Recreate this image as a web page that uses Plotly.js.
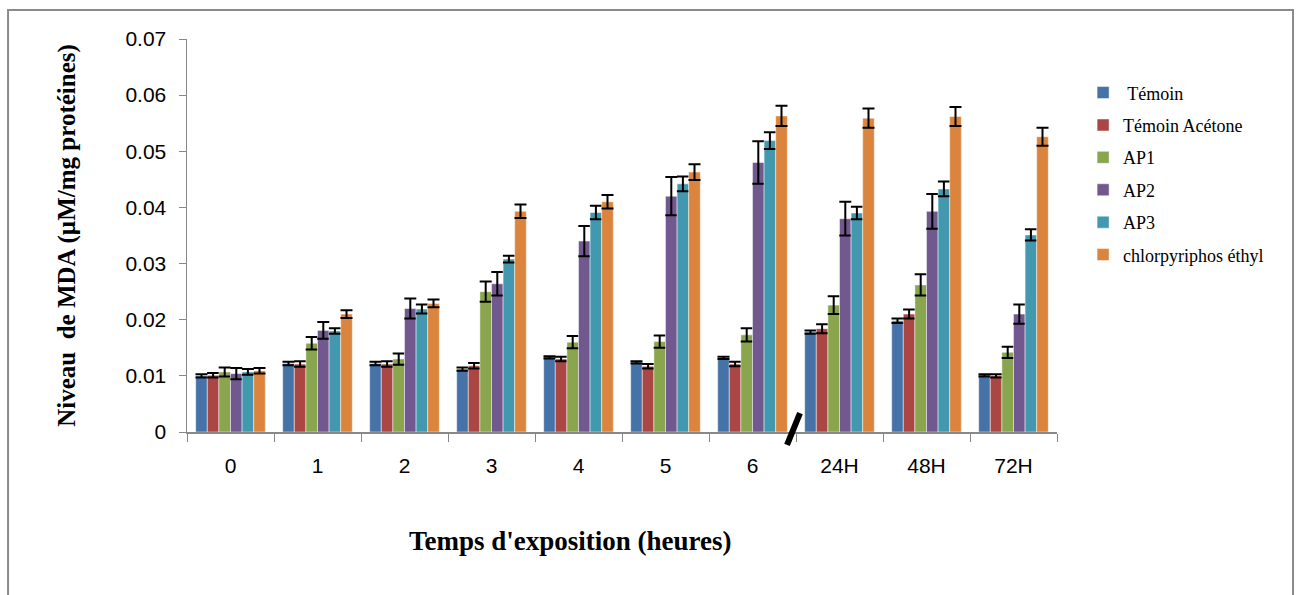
<!DOCTYPE html>
<html>
<head>
<meta charset="utf-8">
<script src="https://cdn.plot.ly/plotly-3.0.1.min.js"></script>
<style>html,body{margin:0;padding:0;background:#fff;}#chart{width:1297px;height:595px;}</style>
</head>
<body>
<div id="chart"></div>
<script>
var categories = ['0','1','2','3','4','5','6','24H','48H','72H'];
var seriesNames = [' Témoin','Témoin Acétone','AP1','AP2','AP3','chlorpyriphos éthyl'];
var temoin      = [0.0100,0.0122,0.0122,0.0112,0.0133,0.0124,0.0132,0.0178,0.0198,0.0101];
var temoinErr   = [0.0003,0.0003,0.0003,0.0003,0.0002,0.0002,0.0002,0.0003,0.0004,0.0002];
var acetone     = [0.0101,0.0121,0.0121,0.0118,0.0130,0.0117,0.0121,0.0184,0.0210,0.0100];
var acetoneErr  = [0.0004,0.0005,0.0005,0.0005,0.0004,0.0004,0.0004,0.0008,0.0008,0.0003];
var ap1         = [0.0107,0.0158,0.0130,0.0250,0.0160,0.0161,0.0173,0.0226,0.0262,0.0142];
var ap1Err      = [0.0008,0.0011,0.0010,0.0018,0.0011,0.0011,0.0012,0.0016,0.0019,0.0010];
var ap2         = [0.0104,0.0181,0.0220,0.0264,0.0340,0.0420,0.0480,0.0380,0.0393,0.0210];
var ap2Err      = [0.0010,0.0015,0.0018,0.0021,0.0027,0.0034,0.0038,0.0030,0.0031,0.0017];
var ap3         = [0.0107,0.0180,0.0219,0.0308,0.0391,0.0442,0.0519,0.0390,0.0433,0.0351];
var ap3Err      = [0.0005,0.0005,0.0008,0.0006,0.0012,0.0013,0.0015,0.0011,0.0013,0.0010];
var cpe         = [0.0109,0.0210,0.0229,0.0393,0.0410,0.0463,0.0563,0.0559,0.0562,0.0526];
var cpeErr      = [0.0005,0.0007,0.0007,0.0012,0.0012,0.0014,0.0018,0.0017,0.0017,0.0016];
var colors = ['#4572A7','#AA4643','#89A54E','#71588F','#4198AF','#DB843D'];
var xTitle = "Temps d'exposition (heures)";
var yTitle = 'Niveau  de MDA (µM/mg protéines)';

var values = [temoin, acetone, ap1, ap2, ap3, cpe];
var errors = [temoinErr, acetoneErr, ap1Err, ap2Err, ap3Err, cpeErr];

var traces = values.map(function(v, i){
  return {
    type: 'bar',
    name: seriesNames[i],
    legendgroup: 'g' + i,
    x: categories,
    y: v,
    marker: {color: colors[i], line: {color: 'rgba(255,255,255,0.6)', width: 0.8}},
    error_y: {type: 'data', array: errors[i], visible: true, color: '#000', thickness: 2, width: 6}
  };
});

var serif = '"Liberation Serif", "Times New Roman", serif';

var layout = {
  width: 1297, height: 595,
  margin: {l: 187, r: 240, t: 39, b: 163},
  paper_bgcolor: '#fff', plot_bgcolor: '#fff',
  barmode: 'group', bargap: 0.2, bargroupgap: 0,
  showlegend: true,
  legend: {
    x: 1.03, y: 0.91, xanchor: 'left', yanchor: 'top',
    font: {family: serif, size: 18, color: '#000'},
    tracegroupgap: 6, itemwidth: 30, bgcolor: 'rgba(0,0,0,0)'
  },
  xaxis: {
    type: 'category',
    tickson: 'boundaries',
    ticks: 'outside', ticklen: 8, tickcolor: '#888', tickwidth: 1,
    showline: true, linecolor: '#888', linewidth: 1.5,
    showgrid: false,
    ticklabelstandoff: 14,
    tickfont: {family: '"Liberation Sans Narrow", "Liberation Sans", Arial, sans-serif', size: 21, color: '#000'}
  },
  yaxis: {
    range: [0, 0.07], dtick: 0.01, tick0: 0,
    ticks: 'outside', ticklen: 7, tickcolor: '#888', tickwidth: 1,
    showline: true, linecolor: '#888', linewidth: 1.5,
    showgrid: false, zeroline: false,
    ticklabelstandoff: 8,
    tickfont: {family: '"Liberation Sans", Arial, sans-serif', size: 21, color: '#000'},
    title: {text: yTitle, standoff: 42,
      font: {family: serif, size: 25, color: '#000', weight: 'bold'}}
  },
  annotations: [
    {text: xTitle, xref: 'paper', yref: 'paper', x: 0.441, y: -0.277,
     xanchor: 'center', yanchor: 'middle', showarrow: false,
     font: {family: serif, size: 27, color: '#000', weight: 'bold'}}
  ],
  shapes: [
    {type: 'rect', xref: 'paper', yref: 'paper', x0: -0.2057, x1: 1.2713, y0: -0.45, y1: 1.0738,
     line: {color: '#8a8a8a', width: 2}, fillcolor: 'rgba(0,0,0,0)'},
    {type: 'line', xref: 'paper', yref: 'paper', x0: 0.6897, y0: -0.033, x1: 0.7046, y1: 0.048,
     line: {color: '#000', width: 6}}
  ]
};

Plotly.newPlot('chart', traces, layout, {displayModeBar: false, staticPlot: true});
</script>
</body>
</html>
